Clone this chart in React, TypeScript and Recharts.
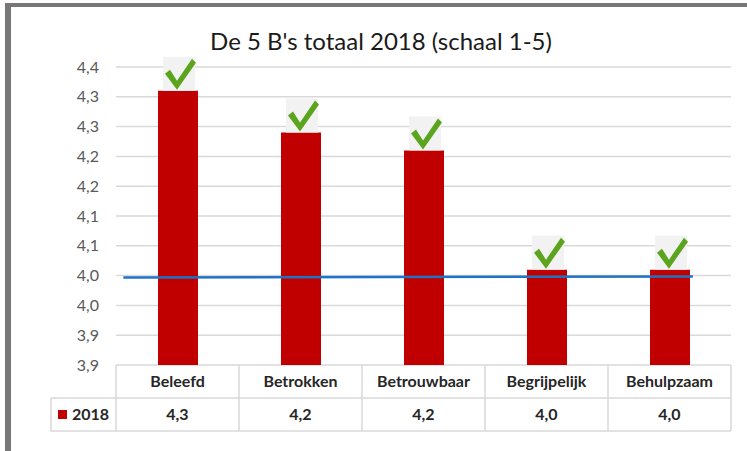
import React from "react";
import {
  Bar,
  BarChart,
  CartesianGrid,
  LabelList,
  ReferenceLine,
  XAxis,
  YAxis,
} from "recharts";

const categories = ["Beleefd", "Betrokken", "Betrouwbaar", "Begrijpelijk", "Behulpzaam"];
const values2018 = [4.31, 4.24, 4.21, 4.01, 4.01];
const seriesName = "2018";
const yTicks = [3.85, 3.9, 3.95, 4.0, 4.05, 4.1, 4.15, 4.2, 4.25, 4.3, 4.35];
const yTickLabels = ["3,9", "3,9", "4,0", "4,0", "4,1", "4,1", "4,2", "4,2", "4,3", "4,3", "4,4"];
const benchmark = 3.997;
// benchmark line runs a bit wider than the outer bars (fraction of the category span)
const benchmarkFrom = 0.06;
const benchmarkTo = 4.69;

const W = 747;
const H = 451;
const MARGIN = { top: 67, right: 16, bottom: 20, left: 10 };
const Y_AXIS_W = 106;
const X_AXIS_H = 66;
const CELL_W = (W - MARGIN.left - Y_AXIS_W - MARGIN.right) / categories.length;
const ROW_H = 33;

const FONT = "Lato, 'Open Sans', sans-serif";
const GRID = "#d9d9d9";
const TEXT = "#262626";

const data = categories.map((name, i) => ({ name, value: values2018[i] }));

const fmt = (v: number) => v.toFixed(1).replace(".", ",");

const TableTick = (props: any) => {
  const { x, y, payload, index } = props;
  const left = x - CELL_W / 2;
  const right = x + CELL_W / 2;
  const last = index === categories.length - 1;
  const txt = {
    fontSize: 16,
    fontWeight: 700,
    fill: TEXT,
    fontFamily: FONT,
  };
  return (
    <g>
      <line x1={left} y1={y} x2={left} y2={y + 2 * ROW_H} stroke={GRID} strokeWidth={1.5} />
      {last && <line x1={right} y1={y} x2={right} y2={y + 2 * ROW_H} stroke={GRID} strokeWidth={1.5} />}
      <line x1={left} y1={y + ROW_H} x2={right} y2={y + ROW_H} stroke={GRID} strokeWidth={1.5} />
      <line x1={left} y1={y + 2 * ROW_H} x2={right} y2={y + 2 * ROW_H} stroke={GRID} strokeWidth={1.5} />
      <text x={x} y={y + ROW_H / 2} dy="0.36em" textAnchor="middle" {...txt}>
        {payload.value}
      </text>
      <text x={x} y={y + ROW_H * 1.5} dy="0.36em" textAnchor="middle" {...txt}>
        {fmt(values2018[index])}
      </text>
      {index === 0 && (
        <g>
          <line x1={left - 65} y1={y + ROW_H} x2={left} y2={y + ROW_H} stroke={GRID} strokeWidth={1.5} />
          <line x1={left - 65} y1={y + 2 * ROW_H} x2={left} y2={y + 2 * ROW_H} stroke={GRID} strokeWidth={1.5} />
          <line x1={left - 65} y1={y + ROW_H} x2={left - 65} y2={y + 2 * ROW_H} stroke={GRID} strokeWidth={1.5} />
          <rect x={left - 58} y={y + ROW_H + 12} width={9} height={9} fill="#c00000" />
          <text x={left - 44} y={y + ROW_H * 1.5} dy="0.36em" {...txt}>
            {seriesName}
          </text>
        </g>
      )}
    </g>
  );
};

const CheckMark = (props: any) => {
  const { x, y, width } = props;
  const cx = x + width / 2 + 1;
  const top = y;
  const pts = [
    [-14, -17],
    [-9, -21],
    [-2, -10],
    [13, -32],
    [17, -28],
    [-2, -1],
  ]
    .map(([dx, dy]) => `${cx + dx},${top + dy}`)
    .join(" ");
  return (
    <g>
      <rect x={cx - 16} y={top - 34} width={32} height={34} fill="#f2f2f2" />
      <polygon points={pts} fill="#5ba41e" />
    </g>
  );
};

const BenchmarkLine = (props: any) => {
  const { x1, x2, y1 } = props;
  const span = x2 - x1;
  const n = categories.length;
  return (
    <line
      x1={x1 + (span * benchmarkFrom) / n}
      x2={x1 + (span * benchmarkTo) / n}
      y1={y1}
      y2={y1 - 1}
      stroke="#1f72c4"
      strokeWidth={2.5}
    />
  );
};

export default function App() {
  return (
    <div style={{ position: "absolute", left: 0, top: 0, width: W, height: H, background: "#fff" }}>
      <div
        style={{
          position: "absolute",
          left: 5,
          top: 3,
          width: W - 5,
          height: H - 3,
          borderTop: "4px solid #787676",
          borderLeft: "6px solid #787676",
          boxSizing: "border-box",
        }}
      />
      <div
        style={{
          position: "absolute",
          left: 0,
          top: 26,
          width: 762,
          textAlign: "center",
          fontFamily: FONT,
          fontSize: 24,
          color: "#1a1a1a",
        }}
      >
        De 5 B's totaal 2018 (schaal 1-5)
      </div>
      <div style={{ position: "absolute", left: 0, top: 0 }}>
        <BarChart width={W} height={H} data={data} margin={MARGIN}>
          <CartesianGrid horizontal vertical={false} stroke={GRID} strokeWidth={1.5} />
          <XAxis
            dataKey="name"
            axisLine={false}
            tickLine={false}
            tickSize={0}
            tickMargin={0}
            height={X_AXIS_H}
            interval={0}
            tick={<TableTick />}
          />
          <YAxis
            width={Y_AXIS_W}
            domain={[yTicks[0], yTicks[yTicks.length - 1]]}
            ticks={yTicks}
            interval={0}
            axisLine={false}
            tickLine={false}
            tickSize={0}
            tickMargin={17}
            tickFormatter={(v: number) => yTickLabels[yTicks.indexOf(v)] ?? fmt(v)}
            tick={{ fill: "#595959", fontSize: 16, fontFamily: FONT }}
          />
          <Bar dataKey="value" fill="#c00000" barSize={40} isAnimationActive={false}>
            <LabelList dataKey="value" content={<CheckMark />} />
          </Bar>
          <ReferenceLine y={benchmark} shape={<BenchmarkLine />} />
        </BarChart>
      </div>
    </div>
  );
}
